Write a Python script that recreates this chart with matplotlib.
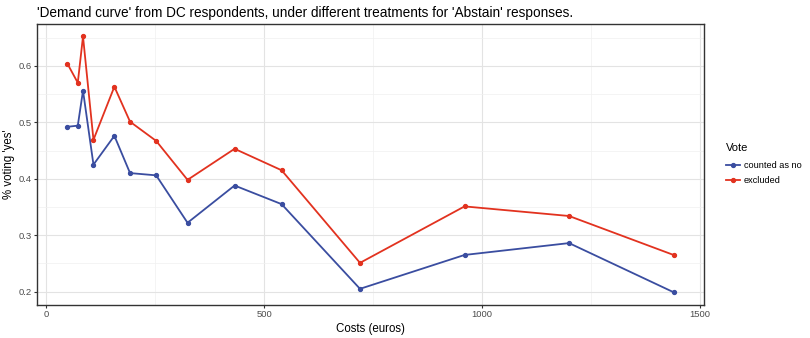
import matplotlib
matplotlib.use("Agg")
import matplotlib.pyplot as plt
from matplotlib.ticker import MultipleLocator

plt.rcParams["font.family"] = ["Liberation Sans", "DejaVu Sans"]

# --- data ---
costs = [48, 72, 84, 108, 156, 192, 252, 324, 432, 540, 720, 960, 1200, 1440]
counted_as_no = [0.492, 0.494, 0.556, 0.425, 0.476, 0.410, 0.406, 0.322,
                 0.388, 0.355, 0.205, 0.265, 0.286, 0.199]
excluded = [0.604, 0.570, 0.652, 0.469, 0.563, 0.501, 0.467, 0.398,
            0.453, 0.415, 0.251, 0.351, 0.334, 0.265]
series_names = ["counted as no", "excluded"]
series_colors = ["#3A4DA0", "#E2321F"]

fig = plt.figure(figsize=(8.1, 3.38), dpi=100)
ax = fig.add_axes([0.0457, 0.0976, 0.8233, 0.8324])

for vals, name, col in zip([counted_as_no, excluded], series_names, series_colors):
    ax.plot(costs, vals, color=col, linewidth=1.3, marker="o", markersize=2.8,
            label=name)

# ggplot-style 5% expansion
xr = max(costs) - min(costs)
ax.set_xlim(min(costs) - 0.05 * xr, max(costs) + 0.05 * xr)
ally = counted_as_no + excluded
yr = max(ally) - min(ally)
ax.set_ylim(min(ally) - 0.05 * yr, max(ally) + 0.05 * yr)

ax.xaxis.set_major_locator(MultipleLocator(500))
ax.xaxis.set_minor_locator(MultipleLocator(250))
ax.yaxis.set_major_locator(MultipleLocator(0.1))
ax.yaxis.set_minor_locator(MultipleLocator(0.05))
ax.grid(which="major", color="#E3E3E3", linewidth=0.8)
ax.grid(which="minor", color="#F0F0F0", linewidth=0.5)
ax.set_axisbelow(True)

for s in ax.spines.values():
    s.set_color("#333333")
    s.set_linewidth(1.0)
ax.tick_params(which="major", length=2, width=0.8, color="#333333",
               labelsize=6.8, labelcolor="#4D4D4D", pad=1.5)
ax.tick_params(which="minor", length=0)

ax.set_xlabel("Costs (euros)", fontsize=8.3, labelpad=3)
ax.set_ylabel("% voting 'yes'", fontsize=8.3, labelpad=2.5)
ax.set_title("'Demand curve' from DC respondents, under different treatments for 'Abstain' responses.",
             fontsize=9.8, loc="left", x=0.0, pad=5)

leg = ax.legend(title="Vote", loc="upper left",
                bbox_to_anchor=(726 / 810, 1 - 143 / 338),
                bbox_transform=fig.transFigure,
                frameon=False, fontsize=6.6, title_fontsize=8,
                handlelength=1.5, handletextpad=0.45, labelspacing=0.6,
                borderpad=0, borderaxespad=0, alignment="left")
leg._legend_box.sep = 6

fig.savefig("out.png", dpi=100)
